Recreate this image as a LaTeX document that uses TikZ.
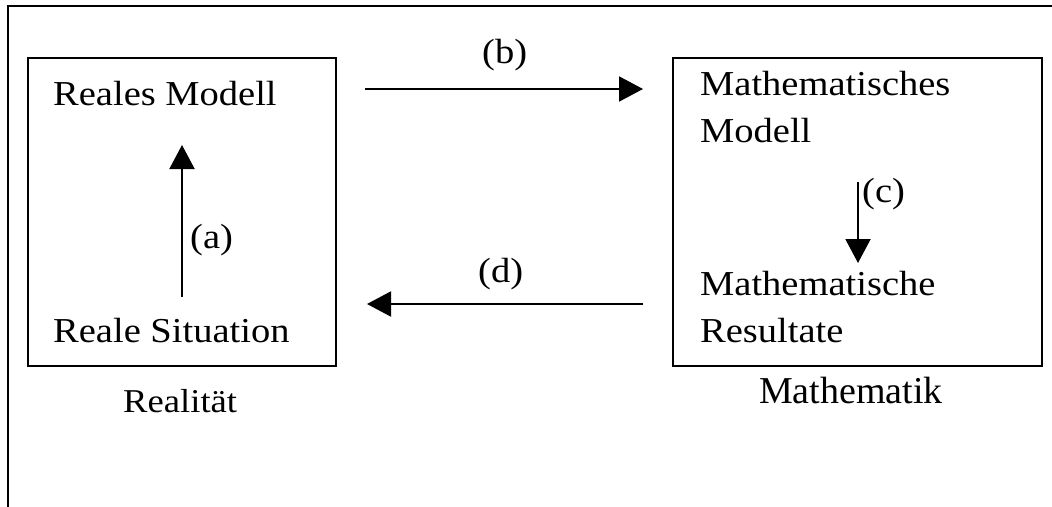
\documentclass[tikz,border=0pt]{standalone}
\usepackage{fontspec}
\setmainfont{Liberation Serif}[FakeStretch=1.1]
\newfontfamily\plainserif{Liberation Serif}
\usetikzlibrary{arrows.meta}
\tikzset{
  x=1pt, y=-1pt,
  frameline/.style={line width=2pt, line cap=rect},
  panel/.style={draw, line width=2pt},
  txt/.style={anchor=base west, inner sep=0pt, font=\fontsize{35}{42}\selectfont},
  lbl/.style={anchor=base west, inner sep=0pt, font=\fontsize{35}{42}\selectfont},
  flow/.style={line width=2pt, -{Triangle[length=24pt, width=25pt]}},
}
\begin{document}
\begin{tikzpicture}
  \useasboundingbox (0,0) rectangle (1052,506);
  % open outer frame: top and left rules only
  \draw[frameline] (1052,6) -- (8,6) -- (8,506);

  % the two panels
  \draw[panel] (28,58) rectangle (336,366);
  \draw[panel] (673,58) rectangle (1042,366);

  % reality side
  \node[txt] (rm) at (53,105) {Reales Modell};
  \node[txt] (rs) at (53,342) {Reale Situation};
  \node[anchor=base west, inner sep=0pt, font=\fontsize{33.3}{40}\selectfont] (real) at (123,412) {Realität};

  % mathematics side
  \node[txt] (mm1) at (700,95) {Mathematisches};
  \node[txt] (mm2) at (700,142) {Modell};
  \node[txt] (mr1) at (700,295) {Mathematische};
  \node[txt] (mr2) at (700,342) {Resultate};
  \node[anchor=base west, inner sep=0pt, font=\plainserif\fontsize{38}{44}\selectfont] (math) at (759,403) {Mathematik};

  % arrow end points
  \coordinate (a0) at (182,297);
  \coordinate (a1) at (182,145);
  \coordinate (b0) at (365,89);
  \coordinate (b1) at (643,89);
  \coordinate (c0) at (858,182);
  \coordinate (c1) at (858,263);
  \coordinate (d0) at (643,304);
  \coordinate (d1) at (367,304);

  \draw[flow] (a0) -- (a1);
  \draw[flow] (b0) -- (b1);
  \draw[flow] (c0) -- (c1);
  \draw[flow] (d0) -- (d1);

  % step labels
  \node[lbl] (la) at (190,248) {(a)};
  \node[lbl] (lb) at (482,63) {(b)};
  \node[lbl] (lc) at (862,202) {(c)};
  \node[lbl] (ld) at (478,282) {(d)};
\end{tikzpicture}
\end{document}
